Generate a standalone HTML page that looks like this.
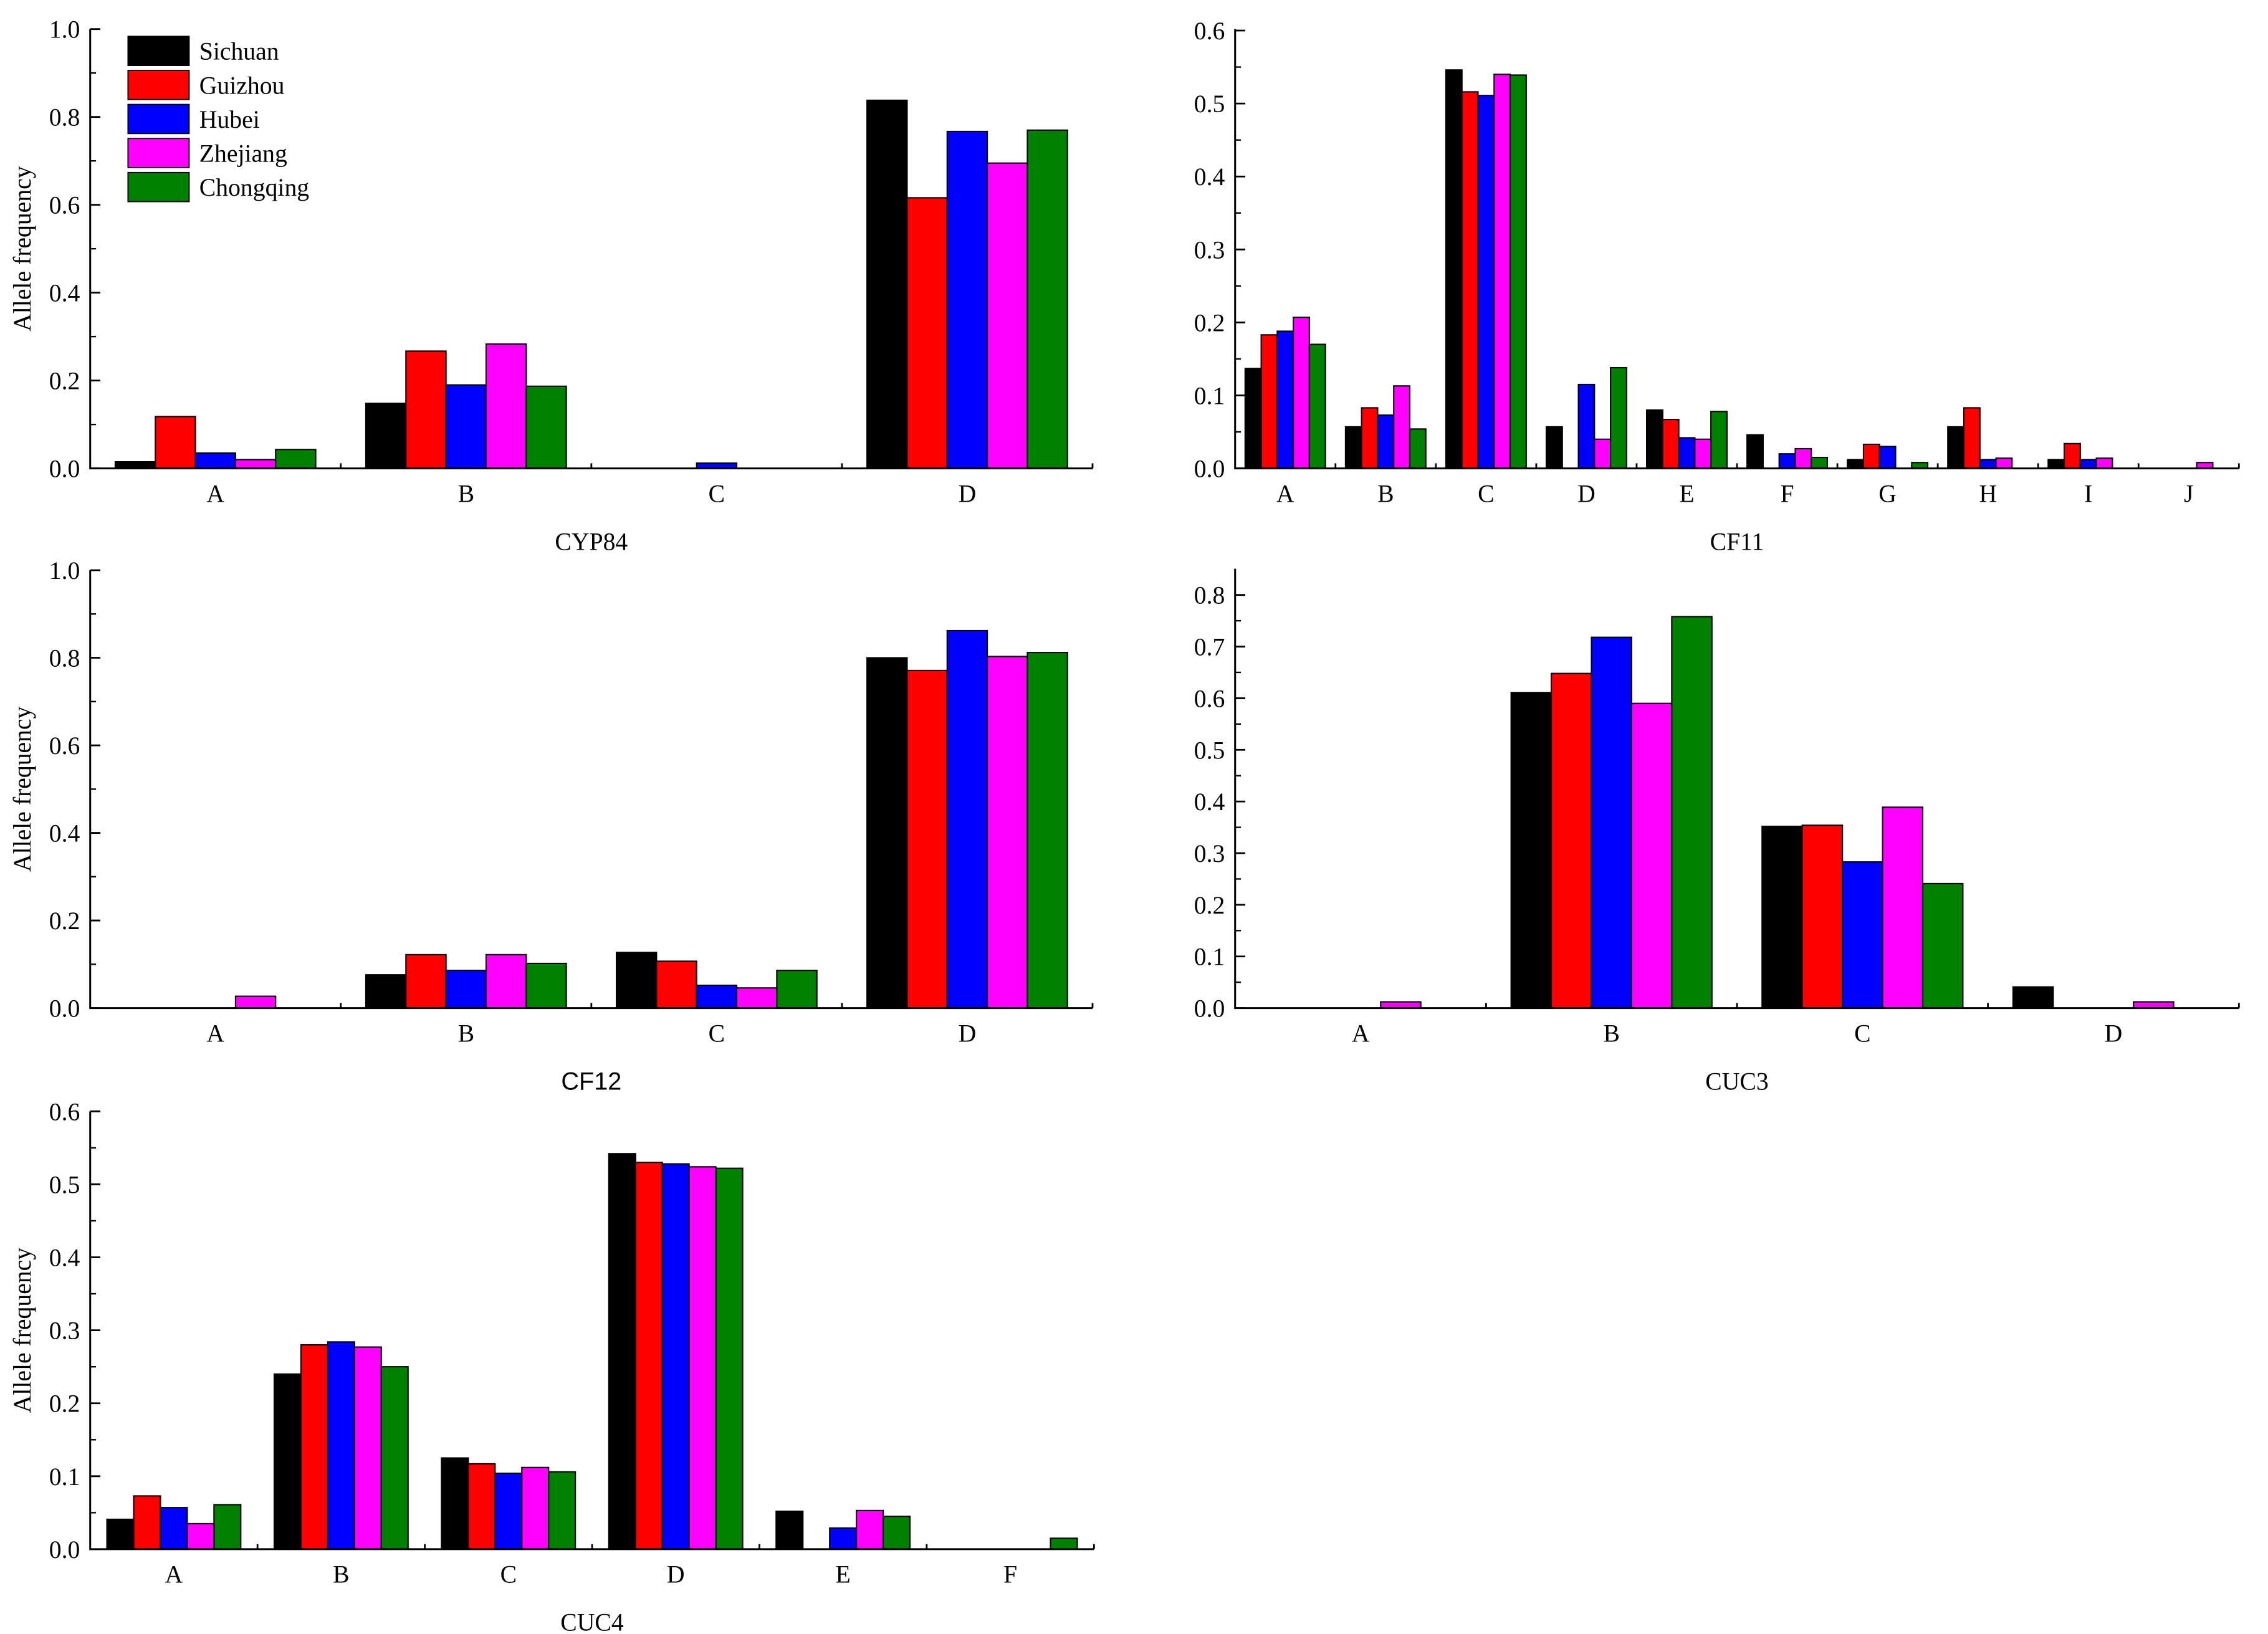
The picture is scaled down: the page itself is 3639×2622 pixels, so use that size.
<!DOCTYPE html>
<html><head><meta charset="utf-8"><style>html,body{margin:0;padding:0;background:#fff}svg{display:block}</style></head>
<body>
<svg id="c" width="3639" height="2622" viewBox="0 0 1559 1123.3" xmlns="http://www.w3.org/2000/svg" font-family="'Liberation Serif', serif"></svg>
<script>
const series = ["Sichuan","Guizhou","Hubei","Zhejiang","Chongqing"];
const colors = ["#000000","#ff0000","#0000ff","#ff00ff","#008000"];
const cyp84Cats = ["A","B","C","D"];
const cyp84Vals = [[0.015,0.148,0,0.838],[0.118,0.267,0,0.616],[0.035,0.19,0.012,0.767],[0.02,0.283,0,0.695],[0.043,0.187,0,0.77]];
const cf11Cats = ["A","B","C","D","E","F","G","H","I","J"];
const cf11Vals = [
 [0.137,0.057,0.546,0.057,0.080,0.046,0.012,0.057,0.012,0],
 [0.183,0.083,0.516,0,0.067,0,0.033,0.083,0.034,0],
 [0.188,0.073,0.511,0.115,0.042,0.020,0.030,0.012,0.012,0],
 [0.207,0.113,0.540,0.040,0.040,0.027,0,0.014,0.014,0.008],
 [0.170,0.054,0.539,0.138,0.078,0.015,0.008,0,0,0]];
const cf12Cats = ["A","B","C","D"];
const cf12Vals = [[0,0.076,0.127,0.800],[0,0.122,0.107,0.771],[0,0.086,0.052,0.862],[0.027,0.122,0.046,0.803],[0,0.102,0.086,0.812]];
const cuc3Cats = ["A","B","C","D"];
const cuc3Vals = [[0,0.611,0.352,0.041],[0,0.648,0.354,0],[0,0.718,0.283,0],[0.012,0.590,0.389,0.012],[0,0.758,0.241,0]];
const cuc4Cats = ["A","B","C","D","E","F"];
const cuc4Vals = [[0.041,0.240,0.125,0.542,0.052,0],[0.073,0.280,0.117,0.530,0,0],[0.057,0.284,0.104,0.528,0.029,0],[0.035,0.277,0.112,0.524,0.053,0],[0.061,0.250,0.106,0.522,0.045,0.015]];
const cyp84Ticks = ["0.0","0.2","0.4","0.6","0.8","1.0"];
const cf11Ticks = ["0.0","0.1","0.2","0.3","0.4","0.5","0.6"];
const cuc3Ticks = ["0.0","0.1","0.2","0.3","0.4","0.5","0.6","0.7","0.8"];

const svg = document.getElementById('c');
const NS = "http://www.w3.org/2000/svg";
function mk(tag, attrs, parent){const e=document.createElementNS(NS,tag);for(const k in attrs)e.setAttribute(k,attrs[k]);(parent||svg).appendChild(e);return e;}

function panel(name, cats, vals, ticks, step, L, R, B, T, yTop, xTitle, titleFont, showYLabel){
  const g = mk('g',{});
  
  
  const maxV = parseFloat(ticks[ticks.length-1]);
  const pxPerUnit = (B - T)/maxV;
  const y = v => B - v*pxPerUnit;
  const gw = (R-L)/cats.length;
  const bw = gw*0.8/series.length;
  for(let s=0;s<series.length;s++){
    for(let i=0;i<cats.length;i++){
      const v = vals[s][i];
      if(v<=0) continue;
      const x = L + gw*i + gw*0.1 + bw*s;
      const r = mk('rect',{x:x,y:y(v),width:bw,height:B-y(v),fill:colors[s],stroke:'#000','stroke-width':0.9},g);
      
      
    }
  }
  const ax = mk('path',{d:`M${L} ${yTop} L${L} ${B} L${R} ${B}`,fill:'none',stroke:'#000','stroke-width':1.3},g);
  
  
  for(let k=0;k<ticks.length;k++){
    const v = k*step, yy = y(v);
    mk('line',{x1:L,x2:L+7,y1:yy,y2:yy,stroke:'#000','stroke-width':1.2},g);
    if(k<ticks.length-1){const ym=y(v+step/2);mk('line',{x1:L,x2:L+4,y1:ym,y2:ym,stroke:'#000','stroke-width':1},g);}
    const t = mk('text',{x:L-7,y:yy+6,'text-anchor':'end','font-size':17},g);
    t.textContent = ticks[k];
    
    
  }
  for(let i=1;i<=cats.length;i++){
    const xx = L+gw*i;
    mk('line',{x1:xx,x2:xx,y1:B,y2:B-3.5,stroke:'#000','stroke-width':1.2},g);
  }
  for(let i=0;i<cats.length;i++){
    const t = mk('text',{x:L+gw*(i+0.5),y:B+23,'text-anchor':'middle','font-size':17},g);
    t.textContent = cats[i];
    
    
  }
  const tt = mk('text',{x:(L+R)/2,y:B+56,'text-anchor':'middle','font-size':17,'font-family':titleFont},g);
  tt.textContent = xTitle;
  
  
  if(showYLabel){
    const yl = mk('text',{x:0,y:0,'text-anchor':'middle','font-size':17,transform:`translate(21 ${(B+T)/2}) rotate(-90)`},g);
    yl.textContent = 'Allele frequency';
    
    
  }
}
const serif = "'Liberation Serif', serif", sans = "'Liberation Sans', sans-serif";
panel('cyp84', cyp84Cats, cyp84Vals, cyp84Ticks, 0.2, 62, 751, 322, 20, 20, 'CYP84', serif, true);
panel('cf11', cf11Cats, cf11Vals, cf11Ticks, 0.1, 849, 1539, 322, 21, 20, 'CF11', serif, false);
panel('cf12', cf12Cats, cf12Vals, cyp84Ticks, 0.2, 62, 751, 693, 392, 392, 'CF12', sans, true);
panel('cuc3', cuc3Cats, cuc3Vals, cuc3Ticks, 0.1, 849, 1539, 693, 409, 391, 'CUC3', serif, false);
panel('cuc4', cuc4Cats, cuc4Vals, cf11Ticks, 0.1, 62, 752, 1065, 764, 764, 'CUC4', serif, true);

const lg = mk('g',{});


for(let s=0;s<series.length;s++){
  const yy = 25 + s*23.4;
  const r = mk('rect',{x:88,y:yy,width:42,height:20,fill:colors[s],stroke:'#000','stroke-width':0.8},lg);
  
  
  const t = mk('text',{x:137,y:yy+16,'font-size':17},lg);
  t.textContent = series[s];
  
  
}
</script>
</body></html>
